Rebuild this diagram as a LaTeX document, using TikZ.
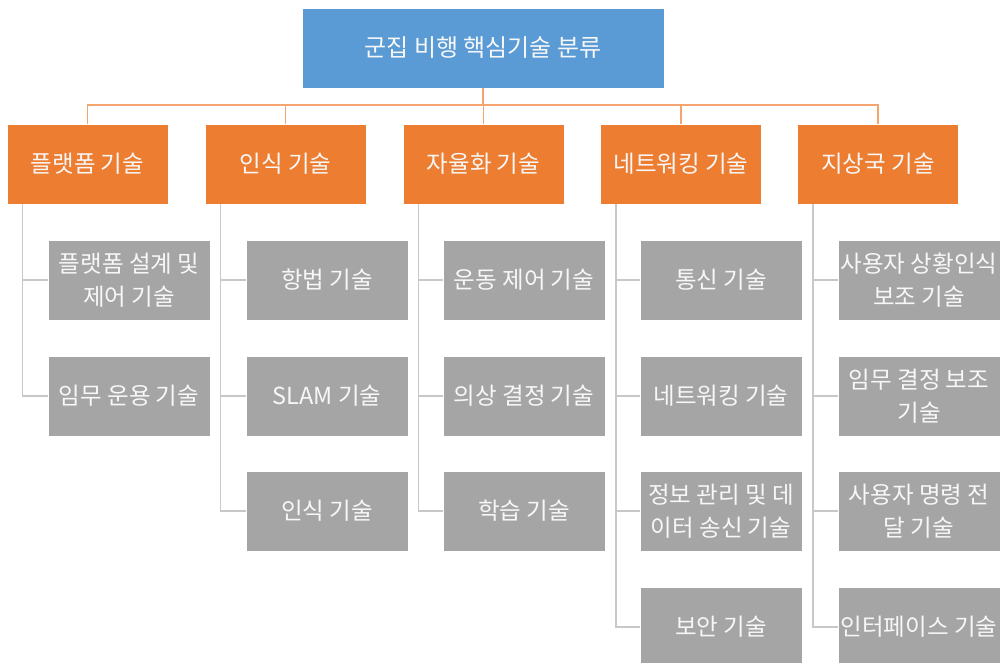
\documentclass[tikz,border=0pt]{standalone}
\usepackage{fontspec}
\setmainfont{Noto Sans CJK KR}
\definecolor{rootblue}{HTML}{5B9BD5}
\definecolor{catorange}{HTML}{ED7D31}
\definecolor{leafgray}{HTML}{A5A5A5}
\definecolor{orangeline}{HTML}{F4A46E}
\definecolor{grayline}{HTML}{C8C8C8}
\definecolor{boxtext}{HTML}{F7F7F7}
\begin{document}
\begin{tikzpicture}[x=1pt,y=-1pt,
  rootbox/.style={fill=rootblue,draw=white,line width=0.8pt,text=boxtext,minimum width=362pt,minimum height=80pt,font=\fontsize{24}{28}\selectfont,inner sep=0pt},
  catbox/.style={fill=catorange,draw=white,line width=0.8pt,text=boxtext,minimum width=161pt,minimum height=80pt,font=\fontsize{23.5}{28}\selectfont,inner sep=0pt},
  leafbox/.style={fill=leafgray,draw=white,line width=0.8pt,text=boxtext,minimum width=162pt,minimum height=80pt,font=\fontsize{23.5}{33}\selectfont,inner sep=0pt,align=center},
  orangelink/.style={draw=orangeline,line width=1.3pt},
  graylink/.style={draw=grayline,line width=1.3pt}]
\useasboundingbox (0,0) rectangle (1001,663);
\clip (0,0) rectangle (1001,663);
\fill[white] (0,0) rectangle (1001,663);

\node[rootbox] (root) at (483,48) {군집 비행 핵심기술 분류};

\node[catbox] (o1) at (87.5,164) {플랫폼 기술};
\node[catbox] (o2) at (285.5,164) {인식 기술};
\node[catbox] (o3) at (483.5,164) {자율화 기술};
\node[catbox] (o4) at (681,164) {네트워킹 기술};
\node[catbox] (o5) at (878,164) {지상국 기술};

\coordinate (bus) at (483,105);
\foreach \i in {1,...,5}{
  \draw[orangelink] (root.south) -- (bus) -| (o\i.north);
}

% leaves
\node[leafbox] (c11) at (129,280) {플랫폼 설계 및\\제어 기술};
\node[leafbox] (c12) at (129,396) {임무 운용 기술};

\node[leafbox] (c21) at (327,280) {항법 기술};
\node[leafbox] (c22) at (327,396) {SLAM 기술};
\node[leafbox] (c23) at (327,511) {인식 기술};

\node[leafbox] (c31) at (524,280) {운동 제어 기술};
\node[leafbox] (c32) at (524,396) {의상 결정 기술};
\node[leafbox] (c33) at (524,511) {학습 기술};

\node[leafbox] (c41) at (721,280) {통신 기술};
\node[leafbox] (c42) at (721,396) {네트워킹 기술};
\node[leafbox] (c43) at (721,511) {정보 관리 및 데\\이터 송신 기술};
\node[leafbox] (c44) at (721,627) {보안 기술};

\node[leafbox] (c51) at (919,280) {사용자 상황인식\\보조 기술};
\node[leafbox] (c52) at (919,396) {임무 결정 보조\\기술};
\node[leafbox] (c53) at (919,511) {사용자 명령 전\\달 기술};
\node[leafbox] (c54) at (919,627) {인터페이스 기술};

\coordinate (s1) at ([xshift=16pt]o1.south west);
\coordinate (s2) at ([xshift=16pt]o2.south west);
\coordinate (s3) at ([xshift=16pt]o3.south west);
\coordinate (s4) at ([xshift=16pt]o4.south west);
\coordinate (s5) at ([xshift=16pt]o5.south west);

\foreach \j in {1,2}{\draw[graylink] (s1) |- (c1\j.west);}
\foreach \j in {1,2,3}{\draw[graylink] (s2) |- (c2\j.west);}
\foreach \j in {1,2,3}{\draw[graylink] (s3) |- (c3\j.west);}
\foreach \j in {1,...,4}{\draw[graylink] (s4) |- (c4\j.west);}
\foreach \j in {1,...,4}{\draw[graylink] (s5) |- (c5\j.west);}
\end{tikzpicture}
\end{document}
